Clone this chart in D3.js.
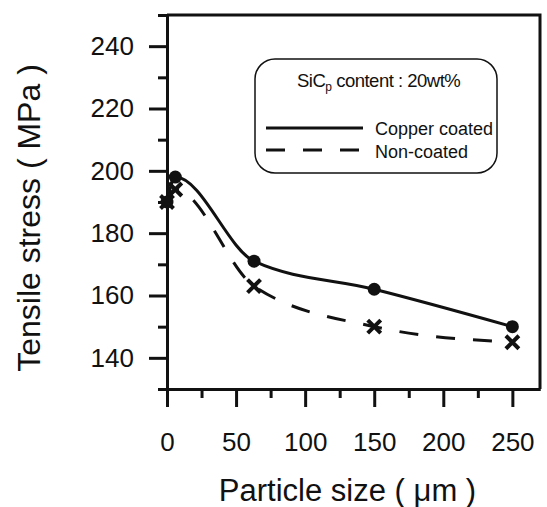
<!DOCTYPE html>
<html>
<head>
<meta charset="utf-8">
<script src="https://cdn.jsdelivr.net/npm/d3@7"></script>
<style>
  body { margin: 0; background: #fff; }
  svg { display: block; font-family: "Liberation Sans", Arial, sans-serif; }
</style>
</head>
<body>
<svg id="svg1" width="547" height="507"></svg>
<script>
// data
var particleSize = [0, 6, 63, 150, 250];           // um
var copperCoated = [190, 198, 171, 162, 150];      // MPa
var nonCoated    = [190, 194, 163, 150, 145];      // MPa

var xMajor = [0, 50, 100, 150, 200, 250];
var xMinor = [25, 75, 125, 175, 225];
var yMajor = [140, 160, 180, 200, 220, 240];
var yMinor = [130, 150, 170, 190, 210, 230, 250];

var legendTitle = 'SiC';
var legendSeries = ['Copper coated', 'Non-coated'];

var marginLeft = 167;
var marginTop = 15;
var width = 373;
var height = 374;

var svg = d3.select('svg')
    .append('g')
    .attr('transform', 'translate(' + marginLeft + ',' + marginTop + ')');

var x = d3.scaleLinear().domain([0, 270]).range([0, width]);
var y = d3.scaleLinear().domain([130, 250]).range([height, 0]);

// frame (top + right)
svg.append('path')
    .attr('d', 'M0,0H' + width + 'V' + height)
    .attr('fill', 'none')
    .attr('stroke', '#111')
    .attr('stroke-width', 3);

// axes: major ticks with labels, minor ticks without
function styleAxis(g) {
    g.select('.domain').attr('stroke', '#111').attr('stroke-width', 3);
    g.selectAll('.tick line').attr('stroke', '#111').attr('stroke-width', 3);
    g.selectAll('.tick text').attr('fill', '#111').attr('font-size', '26px');
}

svg.append('g')
    .call(d3.axisLeft(y).tickValues(yMajor).tickSize(18).tickSizeOuter(0).tickPadding(15).tickFormat(d3.format('d')))
    .call(styleAxis);
svg.append('g')
    .call(d3.axisLeft(y).tickValues(yMinor).tickSize(9).tickSizeOuter(0).tickFormat(''))
    .call(styleAxis);

svg.append('g')
    .attr('transform', 'translate(0,' + height + ')')
    .call(d3.axisBottom(x).tickValues(xMajor).tickSize(18).tickSizeOuter(0).tickPadding(26).tickFormat(d3.format('d')))
    .call(styleAxis);
svg.append('g')
    .attr('transform', 'translate(0,' + height + ')')
    .call(d3.axisBottom(x).tickValues(xMinor).tickSize(9).tickSizeOuter(0).tickFormat(''))
    .call(styleAxis);

// axis titles
svg.append('text')
    .attr('x', width / 2 - 6)
    .attr('y', height + 112)
    .attr('text-anchor', 'middle')
    .attr('font-size', '31px')
    .attr('fill', '#111')
    .text('Particle size ( \u03bcm )');

svg.append('text')
    .attr('transform', 'translate(' + (-127) + ',' + (height / 2 + 16) + ') rotate(-90)')
    .attr('text-anchor', 'middle')
    .attr('font-size', '32px')
    .attr('fill', '#111')
    .text('Tensile stress ( MPa )');

// curves
var line = d3.line()
    .x(function(d){ return x(d[0]); })
    .y(function(d){ return y(d[1]); })
    .curve(d3.curveMonotoneX);

var copperPts = particleSize.map(function(s, i){ return [s, copperCoated[i]]; });
var nonPts = particleSize.map(function(s, i){ return [s, nonCoated[i]]; });

svg.append('path')
    .attr('d', line(copperPts))
    .attr('fill', 'none')
    .attr('stroke', '#111')
    .attr('stroke-width', 3);

svg.append('path')
    .attr('d', line(nonPts))
    .attr('fill', 'none')
    .attr('stroke', '#111')
    .attr('stroke-width', 3)
    .attr('stroke-dasharray', '19,18');

// markers
svg.selectAll('circle.copper')
    .data(copperPts)
    .enter()
    .append('circle')
    .attr('class', 'copper')
    .attr('cx', function(d){ return x(d[0]); })
    .attr('cy', function(d){ return y(d[1]); })
    .attr('r', 6.5)
    .attr('fill', '#111');

var cs = 6.5;
svg.selectAll('path.cross')
    .data(nonPts)
    .enter()
    .append('path')
    .attr('class', 'cross')
    .attr('d', function(d){
        var cx = x(d[0]), cy = y(d[1]);
        return 'M' + (cx - cs) + ',' + (cy - cs) + 'L' + (cx + cs) + ',' + (cy + cs) +
               'M' + (cx - cs) + ',' + (cy + cs) + 'L' + (cx + cs) + ',' + (cy - cs);
    })
    .attr('stroke', '#111')
    .attr('stroke-width', 4);

// legend box
var legend = d3.select('svg').append('g');
legend.append('rect')
    .attr('x', 255).attr('y', 59)
    .attr('width', 242).attr('height', 114)
    .attr('rx', 20).attr('ry', 20)
    .attr('fill', '#fff')
    .attr('stroke', '#111')
    .attr('stroke-width', 1.5);

var title = legend.append('text')
    .attr('x', 297).attr('y', 87)
    .attr('font-size', '18.5px')
    .attr('fill', '#111')
    .attr('letter-spacing', '-0.5px');
title.append('tspan').text(legendTitle);
title.append('tspan').attr('font-size', '12px').attr('dy', 4).text('p');
title.append('tspan').attr('dy', -4).text(' content : 20wt%');

legend.selectAll('line.key')
    .data(legendSeries)
    .enter()
    .append('line')
    .attr('class', 'key')
    .attr('x1', 266).attr('x2', 363)
    .attr('y1', function(d, i){ return 128 + i * 22; })
    .attr('y2', function(d, i){ return 128 + i * 22; })
    .attr('stroke', '#111')
    .attr('stroke-width', 3)
    .attr('stroke-dasharray', function(d, i){ return i ? '19,18' : null; });

legend.selectAll('text.key')
    .data(legendSeries)
    .enter()
    .append('text')
    .attr('class', 'key')
    .attr('x', 375)
    .attr('y', function(d, i){ return 135 + i * 23; })
    .attr('font-size', '18px')
    .attr('fill', '#111')
    .text(function(d){ return d; });
</script>
</body>
</html>
